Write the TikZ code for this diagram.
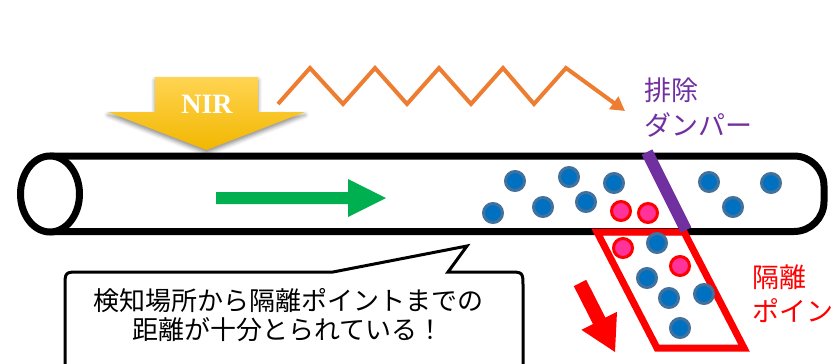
\documentclass[tikz,border=0pt]{standalone}
\usepackage{fontspec}
\newfontfamily\jp{Noto Sans CJK JP}
\newfontfamily\nirfont{Liberation Serif}
\usetikzlibrary{arrows.meta,shadows.blur}
\definecolor{ballblue}{HTML}{0070C0}
\definecolor{balledge}{HTML}{41719C}
\definecolor{pinkball}{HTML}{FF3399}
\definecolor{dmpurple}{HTML}{7030A0}
\definecolor{zigorange}{HTML}{ED7D31}
\definecolor{flowgreen}{HTML}{00B050}
\definecolor{nirtop}{HTML}{FFD452}
\definecolor{nirbot}{HTML}{F2B700}
\tikzset{
  bball/.style={circle, fill=ballblue, draw=balledge, line width=3pt, minimum size=19pt, inner sep=0pt},
  pball/.style={circle, fill=pinkball, draw=red, line width=3pt, minimum size=19pt, inner sep=0pt},
  jplabel/.style={inner sep=0pt, font=\jp\fontsize{27}{32}\selectfont},
  calltext/.style={inner sep=0pt, font=\jp\fontsize{26}{30}\selectfont},
}
\begin{document}
\begin{tikzpicture}[x=1pt,y=-1pt]
\useasboundingbox (0,0) rectangle (833,364);
% tube
\draw[line width=7pt, rounded corners=30pt, fill=white] (50,156) -- (824,156) -- (824,231.5) -- (50,231.5);
\draw[line width=7pt, fill=white] (50,194) ellipse [x radius=29.5, y radius=38];
% NIR arrow
\path[top color=nirtop, bottom color=nirbot, blur shadow={shadow xshift=0pt, shadow yshift=-3pt, shadow blur radius=4pt, shadow opacity=45}]
  (155,77) -- (258,77) -- (258,112) -- (305,112) -- (206.5,150) -- (108,112) -- (155,112) -- cycle;
\node[inner sep=0pt, text=white, font=\nirfont\bfseries\fontsize{28}{30}\selectfont] (nir) at (207,104) {NIR};
% orange zigzag
\draw[zigorange, line width=4pt, line join=miter, -{Triangle[length=14pt, width=15pt]}]
  (278,104) -- (310,68) -- (343,104) -- (375,68) -- (407,104) -- (439,68) -- (471,104) -- (503,68) -- (534,104) -- (566,68) -- (625,111);
% green flow arrow
\fill[flowgreen] (216,192) -- (348,192) -- (348,179) -- (386,198) -- (348,217) -- (348,204) -- (216,204) -- cycle;
% balls in the tube
\node[bball] (b1) at (515,181) {};
\node[bball] (b2) at (569,177) {};
\node[bball] (b3) at (614,183) {};
\node[bball] (b4) at (493,213) {};
\node[bball] (b5) at (543,207) {};
\node[bball] (b6) at (586,202) {};
\node[pball] (p1) at (621,211) {};
\node[pball] (p2) at (648,213) {};
\node[bball] (b7) at (709,182) {};
\node[bball] (b8) at (771,183) {};
\node[bball] (b9) at (733,207) {};
% isolation zone
\draw[red, line width=7pt, line join=miter] (597,232) -- (684,232) -- (744,348) -- (657,348) -- cycle;
\node[pball] (p3) at (623,248) {};
\node[bball] (b10) at (657,243) {};
\node[pball] (p4) at (680,266) {};
\node[bball] (b11) at (647,278) {};
\node[bball] (b12) at (669,298) {};
\node[bball] (b13) at (704,294) {};
\node[bball] (b14) at (680,328) {};
% damper
\draw[dmpurple, line width=12pt] (647,152) -- (686,230);
\node[jplabel, text=dmpurple, anchor=base west] (dmp1) at (644,100) {排除};
\node[jplabel, text=dmpurple, anchor=base west] (dmp2) at (644,135) {ダンパー};
% red down arrow
\fill[red] (586.2,279.8) -- (605.4,317.6) -- (617,311.8) -- (615,352) -- (581.4,329.8) -- (593,324) -- (573.8,286.2) -- cycle;
% isolation label
\node[jplabel, text=red, anchor=base west] (iso1) at (752,287) {隔離};
\node[jplabel, text=red, anchor=base west] (iso2) at (752,321) {ポイント};
% callout
\draw[line width=3pt, fill=white, line join=miter]
  (65,400) -- (65,287) .. controls (65,272) .. (80,272) -- (333,272) -- (467,246) -- (448,272) -- (508,272) .. controls (523,272) .. (523,287) -- (523,400);
\node[calltext, anchor=base] (c1) at (288,310) {検知場所から隔離ポイントまでの};
\node[calltext, anchor=base] (c2) at (288,339) {距離が十分とられている！};
\end{tikzpicture}
\end{document}
